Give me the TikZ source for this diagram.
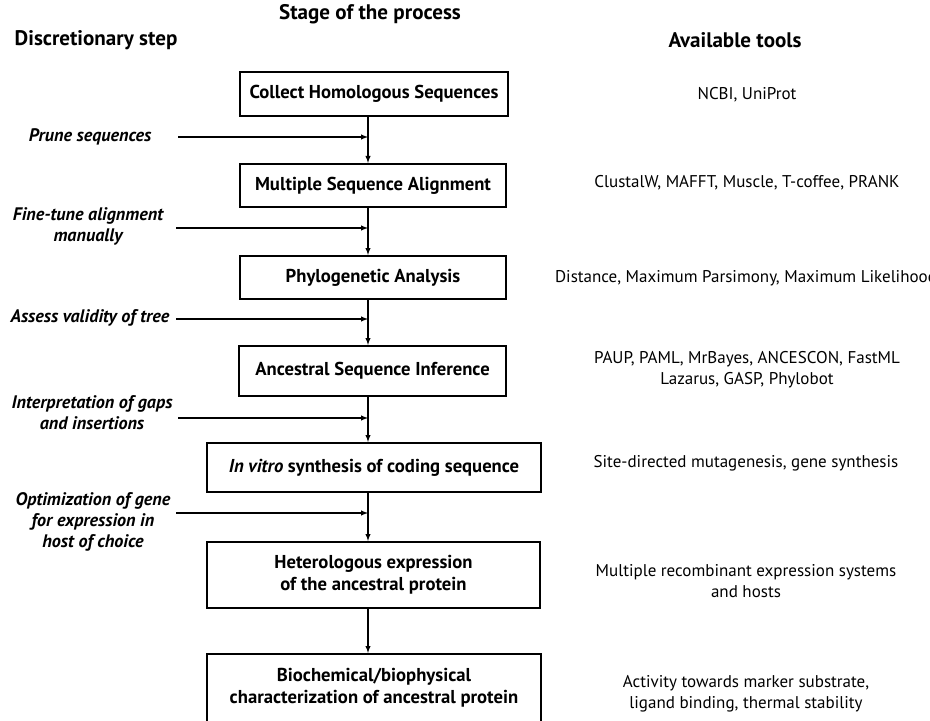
\documentclass[tikz,border=0pt]{standalone}
\usepackage{fontspec}
\setmainfont{PT Sans}
\usetikzlibrary{arrows,positioning}

\begin{document}
\begin{tikzpicture}[x=0.75pt,y=-0.75pt,
    stage/.style={draw,line width=1.6pt,align=center,inner sep=0pt,
      font=\fontsize{14}{16.5}\selectfont\bfseries},
    tool/.style={align=center,font=\fontsize{12.75}{15.75}\selectfont},
    hint/.style={align=center,font=\fontsize{13.6}{15.75}\selectfont\bfseries\itshape},
    head/.style={font=\fontsize{15.8}{18}\selectfont\bfseries},
    flow/.style={-latex,line width=0.8pt}]
\useasboundingbox (0,0) rectangle (930,720);
\clip (0,0) rectangle (930,720);
\node[head] (hstage) at (370,14) {Stage of the process};
\node[head,anchor=west] (hstep) at (10,40) {Discretionary step};
\node[head] (htools) at (735,40) {Available tools};
\coordinate (spine) at (368,0);
\node[stage,minimum width=201pt,minimum height=33pt] (collect) at (374,94) {Collect Homologous Sequences};
\node[stage,minimum width=199.5pt,minimum height=32.25pt] (msa) at (373,185.5) {Multiple Sequence Alignment};
\node[stage,minimum width=199.5pt,minimum height=32.25pt] (phylo) at (373,277.5) {Phylogenetic Analysis};
\node[stage,minimum width=200pt,minimum height=37.5pt] (asr) at (372.5,371) {Ancestral Sequence Inference};
\node[stage,minimum width=250.5pt,minimum height=36.75pt] (synth) at (374,467.5) {\textit{In vitro} synthesis of coding sequence};
\node[stage,minimum width=250pt,minimum height=49.5pt] (expr) at (373.5,575) {Heterologous expression\\of the ancestral protein};
\node[stage,minimum width=250.5pt,minimum height=51pt] (charact) at (374,688) {Biochemical/biophysical\\characterization of ancestral protein};
\draw[flow] (collect.south -| spine) -- (msa.north -| spine);
\draw[flow] (msa.south -| spine) -- (phylo.north -| spine);
\draw[flow] (phylo.south -| spine) -- (asr.north -| spine);
\draw[flow] (asr.south -| spine) -- (synth.north -| spine);
\draw[flow] (synth.south -| spine) -- (expr.north -| spine);
\draw[flow] (expr.south -| spine) -- (charact.north -| spine);
\node[hint] (prune) at (90,137) {Prune sequences};
\node[hint] (tune) at (88,226.5) {Fine-tune alignment\\manually};
\node[hint] (assess) at (90,318) {Assess validity of tree};
\node[hint] (gaps) at (92,413) {Interpretation of gaps\\and insertions};
\node[hint] (optim) at (93,521.5) {Optimization of gene\\for expression in\\host of choice};
\coordinate (s1) at (178,137);
\coordinate (s2) at (176,228);
\coordinate (s3) at (176,319);
\coordinate (s4) at (178,418);
\coordinate (s5) at (176,513);
\draw[flow] (s1) -- (s1 -| spine);
\draw[flow] (s2) -- (s2 -| spine);
\draw[flow] (s3) -- (s3 -| spine);
\draw[flow] (s4) -- (s4 -| spine);
\draw[flow] (s5) -- (s5 -| spine);
\node[tool] (t1) at (747,95) {NCBI, UniProt};
\node[tool] (t2) at (747,183) {ClustalW, MAFFT, Muscle, T-coffee, PRANK};
\node[tool] (t3) at (746,278) {Distance, Maximum Parsimony, Maximum Likelihood};
\node[tool] (t4) at (747,370) {PAUP, PAML, MrBayes, ANCESCON, FastML\\Lazarus, GASP, Phylobot};
\node[tool] (t5) at (746,463) {Site-directed mutagenesis, gene synthesis};
\node[tool] (t6) at (746,581) {Multiple recombinant expression systems\\and hosts};
\node[tool] (t7) at (746,694) {Activity towards marker substrate,\\ligand binding, thermal stability};
\end{tikzpicture}
\end{document}
